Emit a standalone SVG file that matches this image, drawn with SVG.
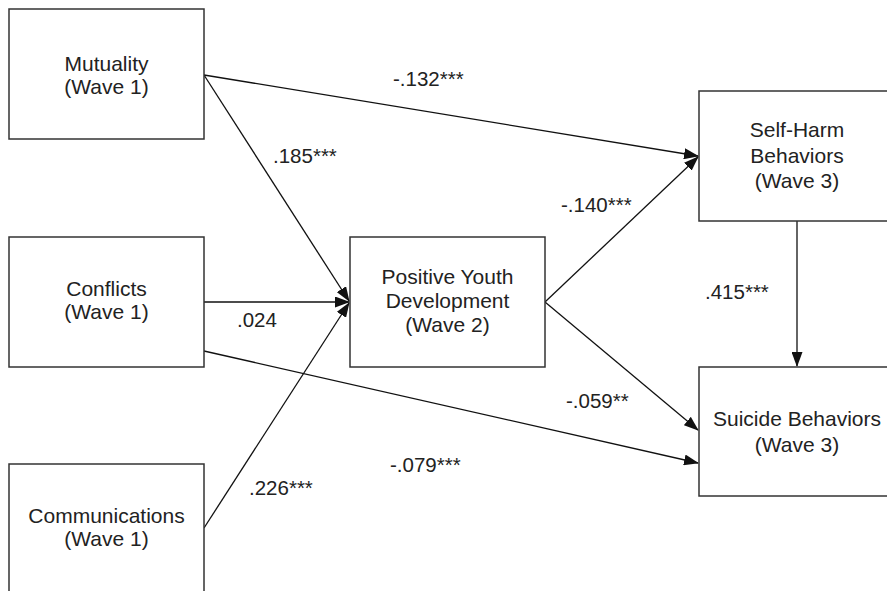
<svg xmlns="http://www.w3.org/2000/svg" width="887" height="591" viewBox="0 0 887 591">
<style>
.box{fill:#fff;stroke:#333;stroke-width:1.5}
.t{font-family:"Liberation Sans",Arial,sans-serif;font-size:21px;fill:#222;text-anchor:middle}
.lbl{font-family:"Liberation Sans",Arial,sans-serif;font-size:20.5px;fill:#222}
.c{stroke:#111;stroke-width:1.3;fill:none;marker-end:url(#ah)}
</style>
<defs>
<marker id="ah" markerWidth="15" markerHeight="11" refX="14" refY="5.5" orient="auto" markerUnits="userSpaceOnUse">
<path d="M0,0 L15,5.5 L0,11 Z" fill="#111"/>
</marker>
</defs>
<rect width="887" height="591" fill="#fff"/>
<g id="connectors">
<line class="c" x1="204" y1="75" x2="698" y2="156"/>
<line class="c" x1="204" y1="75" x2="349" y2="301"/>
<line class="c" x1="204" y1="302" x2="349" y2="302"/>
<line class="c" x1="204" y1="528" x2="349" y2="303"/>
<line class="c" x1="204" y1="351" x2="698" y2="463"/>
<line class="c" x1="545" y1="302" x2="698" y2="157"/>
<line class="c" x1="545" y1="302" x2="698" y2="430"/>
<line class="c" x1="797" y1="221" x2="797" y2="366"/>
</g>
<g id="mutuality">
<rect class="box" x="9" y="9" width="195" height="130"/>
<text class="t" x="106.5" y="71">Mutuality</text>
<text class="t" x="106.5" y="94">(Wave 1)</text>
</g>
<g id="conflicts">
<rect class="box" x="9" y="237" width="195" height="130"/>
<text class="t" x="106.5" y="296">Conflicts</text>
<text class="t" x="106.5" y="319">(Wave 1)</text>
</g>
<g id="communications">
<rect class="box" x="9" y="464" width="195" height="140"/>
<text class="t" x="106.5" y="523">Communications</text>
<text class="t" x="106.5" y="546">(Wave 1)</text>
</g>
<g id="pyd">
<rect class="box" x="350" y="237" width="195" height="130"/>
<text class="t" x="447.5" y="284">Positive Youth</text>
<text class="t" x="447.5" y="308">Development</text>
<text class="t" x="447.5" y="332">(Wave 2)</text>
</g>
<g id="selfharm">
<rect class="box" x="699" y="91" width="196" height="130"/>
<text class="t" x="797" y="137">Self-Harm</text>
<text class="t" x="797" y="163">Behaviors</text>
<text class="t" x="797" y="188">(Wave 3)</text>
</g>
<g id="suicide">
<rect class="box" x="699" y="367" width="196" height="129"/>
<text class="t" x="797" y="426">Suicide Behaviors</text>
<text class="t" x="797" y="452">(Wave 3)</text>
</g>
<g id="labels">
<text class="lbl" x="393" y="86">-.132***</text>
<text class="lbl" x="273" y="163">.185***</text>
<text class="lbl" x="237" y="327">.024</text>
<text class="lbl" x="249" y="495">.226***</text>
<text class="lbl" x="561" y="212">-.140***</text>
<text class="lbl" x="705" y="299">.415***</text>
<text class="lbl" x="566" y="408">-.059**</text>
<text class="lbl" x="390" y="472">-.079***</text>
</g>
</svg>
